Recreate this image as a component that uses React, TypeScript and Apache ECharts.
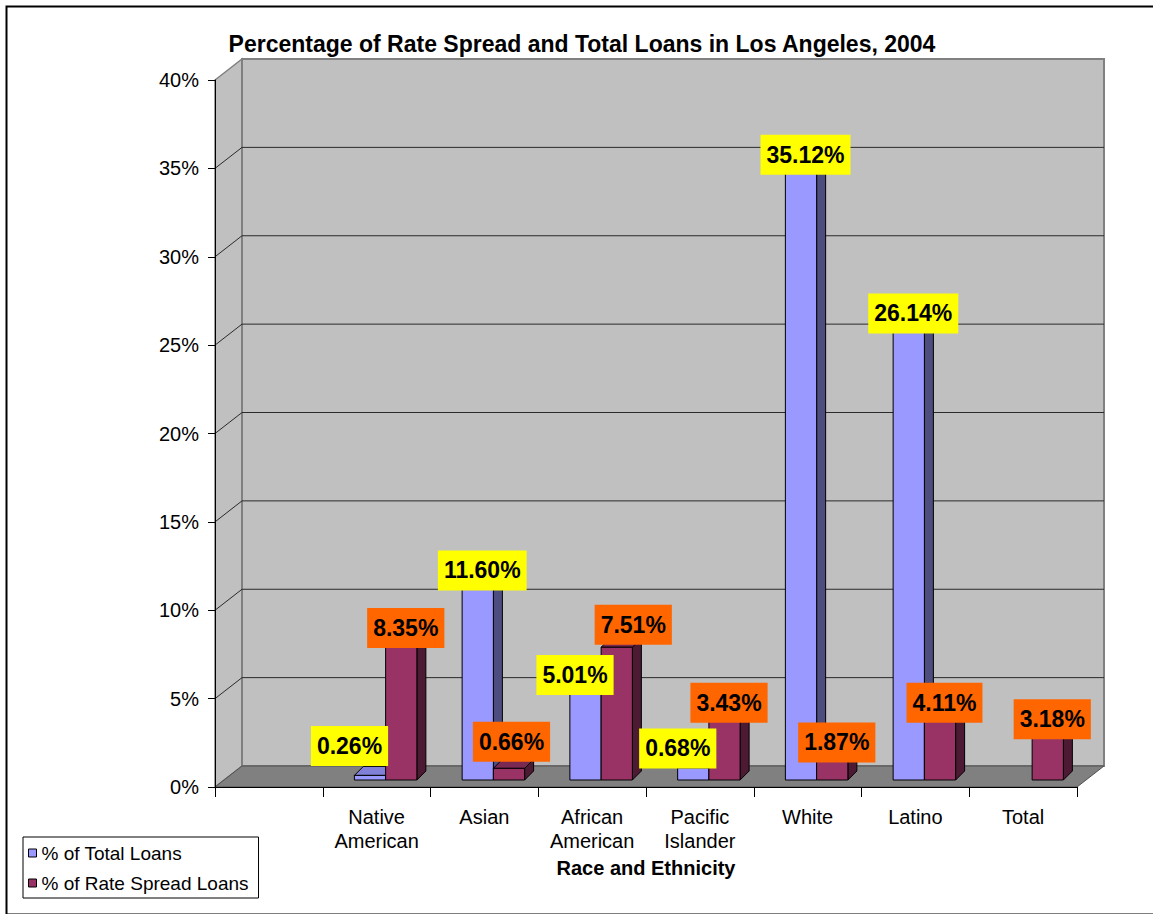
import React, { useEffect, useRef } from "react";
import * as echarts from "echarts";

// Race / ethnicity groups along the floor of the chart (first slot left empty)
const CATEGORIES = ["", "Native\nAmerican", "Asian", "African\nAmerican", "Pacific\nIslander", "White", "Latino", "Total"];
// % of total loans by group
const TOTAL_LOANS: (number | null)[] = [null, 0.26, 11.6, 5.01, 0.68, 35.12, 26.14, null];
// % of rate spread loans by group
const RATE_SPREAD: (number | null)[] = [null, 8.35, 0.66, 7.51, 3.43, 1.87, 4.11, 3.18];
// value axis
const Y_MIN = 0;
const Y_MAX = 40;
const Y_STEP = 5;

const SERIES_NAMES = ["% of Total Loans", "% of Rate Spread Loans"];
const TITLE = "Percentage of Rate Spread and Total Loans in Los Angeles, 2004";
const X_TITLE = "Race and Ethnicity";

const FONT = '"Liberation Sans", Arial, Helvetica, sans-serif';

// pseudo-3D look
const WALL_DX = 27;
const WALL_DY = -21;
const BAR_OFF_X = 9;
const BAR_OFF_Y = -7;
const BAR_DX = 9;
const BAR_DY = -9;
const BAR_FRACTION = 0.29;

const FACE = [
  { front: "#9999FF", side: "#4D4D80", top: "#8080D8", label: "#FFFF00" },
  { front: "#993366", side: "#4D1A33", top: "#7A2952", label: "#FF6600" },
];

// hand-placed label shifts where the data labels would collide
const LABEL_SHIFT: Record<string, [number, number]> = {
  "0-1": [-25, -25],
  "0-3": [-15, -12],
  "0-4": [-20, -15],
  "1-2": [-2, -22],
  "1-3": [12, -18],
  "1-4": [0, -12],
};

function toData(values: (number | null)[]) {
  const out: [number, number][] = [];
  values.forEach((v, i) => {
    if (v !== null) out.push([i, v]);
  });
  return out;
}

function barGeometry(api: any, s: number) {
  const cat = api.value(0);
  const v = api.value(1);
  const base = api.coord([cat, 0]);
  const topPt = api.coord([cat, v]);
  const band = api.size([1, 0])[0];
  const bw = band * BAR_FRACTION;
  const x = base[0] + (s === 0 ? -bw : 0) + BAR_OFF_X;
  const yBase = base[1] + BAR_OFF_Y;
  const yTop = topPt[1] + BAR_OFF_Y;
  return { cat, v, x, bw, yBase, yTop };
}

function makeBarRenderer(s: number) {
  return (_params: any, api: any) => {
    const { x, bw, yBase, yTop } = barGeometry(api, s);
    const c = FACE[s];
    const line = { stroke: "#000", lineWidth: 1 };
    return {
      type: "group",
      children: [
        {
          type: "polygon",
          shape: { points: [[x + bw, yBase], [x + bw + BAR_DX, yBase + BAR_DY], [x + bw + BAR_DX, yTop + BAR_DY], [x + bw, yTop]] },
          style: { fill: c.side, ...line },
        },
        {
          type: "polygon",
          shape: { points: [[x, yTop], [x + bw, yTop], [x + bw + BAR_DX, yTop + BAR_DY], [x + BAR_DX, yTop + BAR_DY]] },
          style: { fill: c.top, ...line },
        },
        {
          type: "rect",
          shape: { x, y: yTop, width: bw, height: yBase - yTop },
          style: { fill: c.front, ...line },
        },
      ],
    };
  };
}

function makeLabelRenderer(s: number) {
  return (_params: any, api: any) => {
    const { cat, v, x, bw, yTop } = barGeometry(api, s);
    const shift = LABEL_SHIFT[`${s}-${cat}`] || [0, 0];
    return {
      type: "text",
      x: x + bw / 2 + BAR_DX / 2 + shift[0],
      y: yTop + BAR_DY / 2 + shift[1],
      style: {
        text: `${v.toFixed(2)}%`,
        font: `bold 23px ${FONT}`,
        fill: "#000",
        align: "center",
        verticalAlign: "middle",
        backgroundColor: FACE[s].label,
        padding: [9, 6, 8, 6],
      },
    };
  };
}

function renderWalls(_params: any, api: any) {
  const band = api.size([1, 0])[0];
  const x0 = api.coord([0, Y_MIN])[0] - band / 2;
  const x1 = api.coord([CATEGORIES.length - 1, Y_MIN])[0] + band / 2;
  const y = (v: number) => api.coord([0, v])[1];
  const y0 = y(Y_MIN);
  const yT = y(Y_MAX);
  const children: any[] = [
    {
      type: "polygon",
      shape: { points: [[x0, y0], [x0 + WALL_DX, y0 + WALL_DY], [x0 + WALL_DX, yT + WALL_DY], [x0, yT]] },
      style: { fill: "#C0C0C0", stroke: "#808080", lineWidth: 1.5 },
    },
    {
      type: "rect",
      shape: { x: x0 + WALL_DX, y: yT + WALL_DY, width: x1 - x0, height: y0 - yT },
      style: { fill: "#C0C0C0", stroke: "#808080", lineWidth: 2 },
    },
    {
      type: "polygon",
      shape: { points: [[x0, y0], [x1, y0], [x1 + WALL_DX, y0 + WALL_DY], [x0 + WALL_DX, y0 + WALL_DY]] },
      style: { fill: "#808080", stroke: "#505050", lineWidth: 1 },
    },
  ];
  for (let v = Y_MIN + Y_STEP; v < Y_MAX; v += Y_STEP) {
    const yy = y(v);
    children.push({
      type: "line",
      shape: { x1: x0 + WALL_DX, y1: yy + WALL_DY, x2: x1 + WALL_DX, y2: yy + WALL_DY },
      style: { stroke: "#2a2a2a", lineWidth: 1 },
    });
    children.push({
      type: "line",
      shape: { x1: x0, y1: yy, x2: x0 + WALL_DX, y2: yy + WALL_DY },
      style: { stroke: "#2a2a2a", lineWidth: 1 },
    });
  }
  return { type: "group", children };
}

export default function App() {
  const ref = useRef<HTMLDivElement>(null);

  useEffect(() => {
    if (!ref.current) return;
    const chart = echarts.init(ref.current, null, { renderer: "svg" });
    const totalData = toData(TOTAL_LOANS);
    const spreadData = toData(RATE_SPREAD);

    chart.setOption({
      animation: false,
      backgroundColor: "#fff",
      textStyle: { fontFamily: FONT },
      grid: { left: 215, top: 80, width: 862, height: 707 },
      legend: {
        data: SERIES_NAMES,
        orient: "vertical",
        left: 23,
        top: 837,
        padding: [6, 10, 5, 5],
        itemGap: 10,
        itemWidth: 8,
        itemHeight: 8,
        icon: "rect",
        borderColor: "#000",
        borderWidth: 1,
        itemStyle: { borderColor: "#000", borderWidth: 1 },
        textStyle: { fontSize: 19, color: "#000", fontFamily: FONT, lineHeight: 20 },
      },
      xAxis: {
        type: "category",
        data: CATEGORIES,
        z: 10,
        boundaryGap: true,
        axisLine: { lineStyle: { color: "#000", width: 1 } },
        axisTick: { show: true, length: 10, lineStyle: { color: "#000" }, alignWithLabel: false },
        axisLabel: { color: "#000", fontSize: 20, lineHeight: 24, margin: 18, fontFamily: FONT, interval: 0 },
        name: X_TITLE,
        nameLocation: "middle",
        nameGap: 71,
        nameTextStyle: { fontSize: 20, fontWeight: "bold", color: "#000", fontFamily: FONT },
      },
      yAxis: {
        type: "value",
        min: Y_MIN,
        max: Y_MAX,
        interval: Y_STEP,
        z: 10,
        axisLine: { show: true, lineStyle: { color: "#000", width: 1 } },
        axisTick: { show: true, length: 7, lineStyle: { color: "#000" } },
        splitLine: { show: false },
        axisLabel: { color: "#000", fontSize: 20, margin: 16, fontFamily: FONT, formatter: "{value}%" },
      },
      graphic: [
        {
          type: "rect",
          left: 4,
          top: 4,
          shape: { width: 1160, height: 908 },
          style: { fill: "none", stroke: "#000", lineWidth: 2 },
          z: 100,
        },
        {
          type: "text",
          x: 582,
          y: 44,
          style: { text: TITLE, font: `bold 23px ${FONT}`, fill: "#000", align: "center", verticalAlign: "middle" },
          z: 100,
        },
      ],
      series: [
        {
          type: "custom",
          name: "walls",
          coordinateSystem: "cartesian2d",
          data: [[0, 0]],
          renderItem: renderWalls,
          clip: false,
          z: 1,
          silent: true,
        },
        {
          type: "custom",
          name: SERIES_NAMES[0],
          coordinateSystem: "cartesian2d",
          data: totalData,
          renderItem: makeBarRenderer(0),
          itemStyle: { color: FACE[0].front, borderColor: "#000", borderWidth: 1 },
          clip: false,
          z: 3,
        },
        {
          type: "custom",
          name: SERIES_NAMES[1],
          coordinateSystem: "cartesian2d",
          data: spreadData,
          renderItem: makeBarRenderer(1),
          itemStyle: { color: FACE[1].front, borderColor: "#000", borderWidth: 1 },
          clip: false,
          z: 4,
        },
        {
          type: "custom",
          name: "total-labels",
          coordinateSystem: "cartesian2d",
          data: totalData,
          renderItem: makeLabelRenderer(0),
          clip: false,
          z: 20,
          silent: true,
        },
        {
          type: "custom",
          name: "spread-labels",
          coordinateSystem: "cartesian2d",
          data: spreadData,
          renderItem: makeLabelRenderer(1),
          clip: false,
          z: 21,
          silent: true,
        },
      ],
    });
    return () => chart.dispose();
  }, []);

  return <div ref={ref} style={{ position: "absolute", left: 0, top: 0, width: 1153, height: 914 }} />;
}
